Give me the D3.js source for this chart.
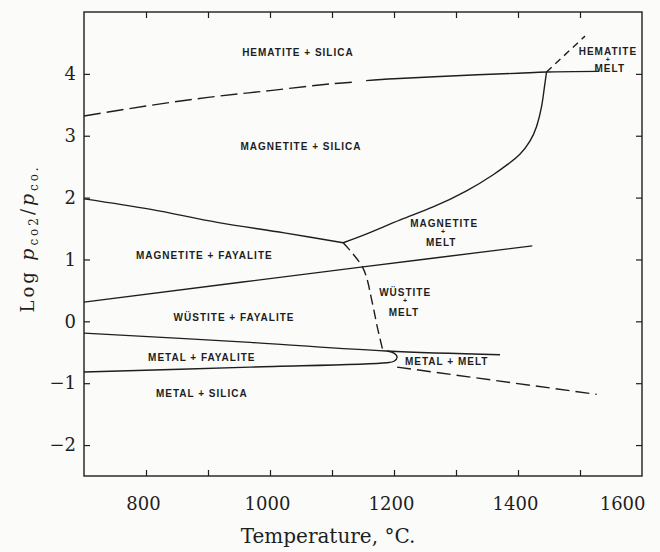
<!DOCTYPE html>
<html>
<head>
<meta charset="utf-8">
<script src="https://cdn.jsdelivr.net/npm/d3@7"></script>
<style>
  body { margin: 0; background: #fbfbfa; }
  svg { display: block; }
</style>
</head>
<body>
<div id="chart"></div>
<script>
const width = 660;
const height = 552;

// boundary curves, [temperature °C, log pCO2/pCO]
const hemMagDashed = [[700, 3.32], [800, 3.48], [900, 3.62], [1000, 3.73], [1100, 3.84], [1140, 3.87]];
const hemMagSolid = [[1155, 3.89], [1200, 3.92], [1300, 3.97], [1400, 4.01], [1446, 4.03], [1530, 4.04]];
const hemMeltDashed = [[1446, 4.03], [1508, 4.61]];
const liquidus = [[1446, 4.03], [1442, 3.74], [1438, 3.47], [1430, 3.15], [1419, 2.91], [1403, 2.70],
  [1385, 2.55], [1360, 2.37], [1317, 2.11], [1263, 1.85], [1210, 1.64], [1160, 1.43], [1118, 1.27]];
const magFayBoundary = [[700, 1.98], [808, 1.81], [915, 1.60], [1023, 1.43], [1118, 1.27]];
const magWusLine = [[700, 0.31], [1150, 0.88], [1423, 1.22]];
const wusMeltDashed = [[1118, 1.27], [1150, 0.86], [1165, 0.30], [1173, -0.09], [1182, -0.47]];
const wusMetalLine = [[700, -0.19], [968, -0.34], [1187, -0.48], [1371, -0.54]];
const fayaliteNose = [[700, -0.82], [968, -0.74], [1188, -0.67], [1200, -0.645], [1205, -0.58],
  [1200, -0.515], [1189, -0.48]];
const metalMeltDashed = [[1205, -0.74], [1527, -1.18]];

// tick values
const xTicks = [800, 900, 1000, 1100, 1200, 1300, 1400, 1500];
const xLabels = [800, 1000, 1200, 1400, 1600];
const yTicks = [-2, -1, 0, 1, 2, 3, 4];

// region labels (one entry per text line)
const regionLabels = [
  { text: "HEMATITE + SILICA", t: 1045, v: 4.34 },
  { text: "MAGNETITE + SILICA", t: 1050, v: 2.83 },
  { text: "HEMATITE", t: 1545, v: 4.37 },
  { text: "+", t: 1545, v: 4.23, small: true },
  { text: "MELT", t: 1548, v: 4.09 },
  { text: "MAGNETITE", t: 1281, v: 1.59 },
  { text: "+", t: 1279, v: 1.46, small: true },
  { text: "MELT", t: 1276, v: 1.27 },
  { text: "MAGNETITE + FAYALITE", t: 894, v: 1.07 },
  { text: "WÜSTITE", t: 1218, v: 0.46 },
  { text: "+", t: 1218, v: 0.33, small: true },
  { text: "MELT", t: 1216, v: 0.15 },
  { text: "WÜSTITE + FAYALITE", t: 942, v: 0.07 },
  { text: "METAL + FAYALITE", t: 890, v: -0.58 },
  { text: "METAL + MELT", t: 1285, v: -0.64 },
  { text: "METAL + SILICA", t: 890, v: -1.16 }
];

const svg = d3.select("#chart")
  .append("svg")
  .attr("width", width)
  .attr("height", height);

const x = d3.scaleLinear().domain([700, 1600]).range([84, 642]);
const y = d3.scaleLinear().domain([-2.5, 5]).range([476, 12]);

const ink = "#1e1e1e";
const serif = "'DejaVu Serif', 'Liberation Serif', serif";

// frame
svg.append("rect")
  .attr("x", x(700))
  .attr("y", y(5))
  .attr("width", x(1600) - x(700))
  .attr("height", y(-2.5) - y(5))
  .attr("fill", "none")
  .attr("stroke", ink)
  .attr("stroke-width", 1.4);

// ticks, inward on all sides
function styleAxis(g) {
  g.select(".domain").remove();
  g.selectAll(".tick line").attr("stroke", ink).attr("stroke-width", 1.2);
  g.attr("font-family", serif).attr("font-size", 18);
  g.selectAll(".tick text").attr("fill", ink);
}

svg.append("g")
  .attr("transform", `translate(0,${y(-2.5)})`)
  .call(d3.axisBottom(x).tickValues(xTicks).tickSize(-6).tickFormat(""))
  .call(styleAxis);

svg.append("g")
  .attr("transform", `translate(0,${y(-2.5)})`)
  .call(d3.axisBottom(x).tickValues(xLabels).tickSize(0).tickPadding(21).tickFormat(d3.format("d")))
  .call(styleAxis)
  .call(g => g.selectAll(".tick text").attr("dx", -3))
  .call(g => g.selectAll(".tick").filter(d => d === 1600).select("text")
    .attr("text-anchor", "end").attr("dx", 3));

svg.append("g")
  .attr("transform", `translate(0,${y(5)})`)
  .call(d3.axisTop(x).tickValues(xTicks).tickSize(-6).tickFormat(""))
  .call(styleAxis);

svg.append("g")
  .attr("transform", `translate(${x(700)},0)`)
  .call(d3.axisLeft(y).tickValues(yTicks).tickSize(-6).tickPadding(8))
  .call(styleAxis);

svg.append("g")
  .attr("transform", `translate(${x(1600)},0)`)
  .call(d3.axisRight(y).tickValues(yTicks).tickSize(-6).tickFormat(""))
  .call(styleAxis);

// boundary lines
const line = d3.line()
  .x(d => x(d[0]))
  .y(d => y(d[1]))
  .curve(d3.curveCatmullRom.alpha(0.5));

const smooth = d3.line()
  .x(d => x(d[0]))
  .y(d => y(d[1]))
  .curve(d3.curveNatural);

const curves = [
  { data: hemMagDashed, dash: "17,6" },
  { data: hemMagSolid, dash: null },
  { data: hemMeltDashed, dash: "7,5" },
  { data: liquidus, dash: null, gen: smooth },
  { data: magFayBoundary, dash: null },
  { data: magWusLine, dash: null },
  { data: wusMeltDashed, dash: "10,5" },
  { data: wusMetalLine, dash: null },
  { data: fayaliteNose, dash: null },
  { data: metalMeltDashed, dash: "14,6" }
];

svg.selectAll("path.boundary")
  .data(curves)
  .join("path")
  .attr("class", "boundary")
  .attr("d", d => (d.gen || line)(d.data))
  .attr("fill", "none")
  .attr("stroke", ink)
  .attr("stroke-width", 1.4)
  .attr("stroke-dasharray", d => d.dash);

// region labels
svg.selectAll("text.region")
  .data(regionLabels)
  .join("text")
  .attr("class", "region")
  .attr("x", d => x(d.t))
  .attr("y", d => y(d.v))
  .attr("dy", "0.36em")
  .attr("text-anchor", "middle")
  .attr("font-family", "'Liberation Sans', Arial, sans-serif")
  .attr("font-weight", "bold")
  .attr("font-size", d => d.small ? 7 : 10)
  .attr("letter-spacing", d => d.small ? 0 : 1)
  .attr("fill", ink)
  .text(d => d.text);

// axis titles
svg.append("text")
  .attr("x", 328)
  .attr("y", 543)
  .attr("text-anchor", "middle")
  .attr("font-family", serif)
  .attr("font-size", 20)
  .attr("fill", ink)
  .text("Temperature, °C.");

const ylab = svg.append("text")
  .attr("transform", "translate(34,240) rotate(-90)")
  .attr("text-anchor", "middle")
  .attr("font-family", serif)
  .attr("font-size", 18)
  .attr("fill", ink)
  .attr("textLength", 145)
  .attr("lengthAdjust", "spacing");

ylab.append("tspan").text("Log ");
ylab.append("tspan").attr("font-style", "italic").attr("font-size", 19).text("p");
ylab.append("tspan").attr("font-size", 12).attr("dy", 4).text("co2");
ylab.append("tspan").attr("dy", -4).text("/");
ylab.append("tspan").attr("font-style", "italic").attr("font-size", 19).text("p");
ylab.append("tspan").attr("font-size", 12).attr("dy", 4).text("co.");
</script>
</body>
</html>
